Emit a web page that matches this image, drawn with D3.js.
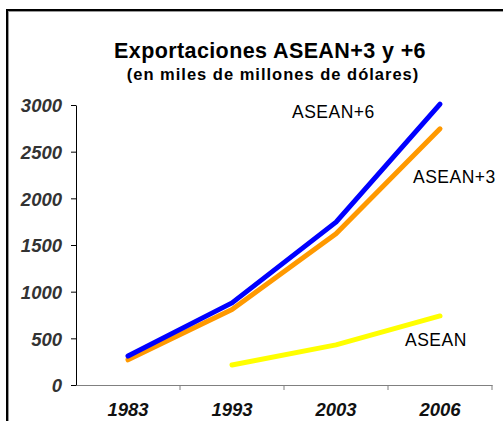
<!DOCTYPE html>
<html>
<head>
<meta charset="utf-8">
<script src="https://cdn.jsdelivr.net/npm/d3@7"></script>
<style>
  html, body { margin: 0; padding: 0; background: #fff; }
  svg { display: block; font-family: "Liberation Sans", Arial, sans-serif; }
</style>
</head>
<body>
<div id="chart"></div>
<script>
// Data
const years = ['1983', '1993', '2003', '2006'];
const asean6 = [310, 880, 1745, 3010];
const asean3 = [270, 810, 1620, 2745];
const asean = [null, 215, 430, 740];
const yTicks = [0, 500, 1000, 1500, 2000, 2500, 3000];

const W = 503, H = 421;

const svg = d3.select('#chart')
    .append('svg')
    .attr('width', W)
    .attr('height', H);

// Frame (cut off at right and bottom)
svg.append('rect')
    .attr('x', 8).attr('y', 11)
    .attr('width', 600).attr('height', 500)
    .attr('fill', 'none')
    .attr('stroke', '#999')
    .attr('stroke-width', 2);
svg.append('rect')
    .attr('x', 7).attr('y', 10)
    .attr('width', 600).attr('height', 500)
    .attr('fill', 'none')
    .attr('stroke', '#000')
    .attr('stroke-width', 2);

// Title
svg.append('text')
    .attr('x', 270).attr('y', 58)
    .attr('text-anchor', 'middle')
    .attr('font-size', '21.5px')
    .attr('font-weight', 'bold')
    .attr('letter-spacing', '0.4px')
    .attr('fill', '#000')
    .text('Exportaciones ASEAN+3 y +6');

svg.append('text')
    .attr('x', 273).attr('y', 80)
    .attr('text-anchor', 'middle')
    .attr('font-size', '16.5px')
    .attr('font-weight', 'bold')
    .attr('letter-spacing', '1px')
    .attr('fill', '#000')
    .text('(en miles de millones de dólares)');

const x = d3.scaleBand()
    .domain(years)
    .range([76, 492]);

const y = d3.scaleLinear()
    .domain([0, 3000])
    .range([385, 105]);

const tickFont = sel => sel
    .attr('font-size', '18.5px')
    .attr('font-weight', 'bold')
    .attr('font-style', 'italic')
    .attr('font-family', '"Liberation Sans", Arial, sans-serif');

// Axes
const xAxis = svg.append('g')
    .attr('transform', `translate(0,${y(0)})`)
    .call(d3.axisBottom(x).tickSize(5).tickSizeOuter(0));
xAxis.select('.domain').attr('stroke', '#808080');
xAxis.selectAll('.tick line')
    .attr('stroke', '#808080')
    .attr('transform', `translate(${x.bandwidth() / 2},0)`);
xAxis.selectAll('.tick text')
    .attr('dy', '0')
    .attr('y', 31)
    .attr('fill', '#111')
    .call(tickFont);

const yAxis = svg.append('g')
    .attr('transform', `translate(${x.range()[0]},0)`)
    .call(d3.axisLeft(y).tickValues(yTicks).tickFormat(d3.format('d')).tickSize(5).tickSizeOuter(0));
yAxis.select('.domain').attr('stroke', '#000');
yAxis.selectAll('.tick line').attr('stroke', '#000');
yAxis.selectAll('.tick text')
    .attr('x', -14)
    .attr('dy', '0.36em')
    .attr('fill', '#333')
    .call(tickFont);

// Lines
const cx = d => x(d) + x.bandwidth() / 2;
const line = d3.line()
    .defined(d => d.v != null)
    .x(d => cx(d.year))
    .y(d => y(d.v));

const series = [
    { name: 'ASEAN', values: asean, color: '#FFFF00' },
    { name: 'ASEAN+3', values: asean3, color: '#FF9900' },
    { name: 'ASEAN+6', values: asean6, color: '#0000FF' }
];

series.forEach(s => {
    svg.append('path')
        .datum(years.map((yr, i) => ({ year: yr, v: s.values[i] })))
        .attr('fill', 'none')
        .attr('stroke', s.color)
        .attr('stroke-width', 5)
        .attr('stroke-linecap', 'round')
        .attr('stroke-linejoin', 'round')
        .attr('d', line);
});

// Series labels
const labels = [
    { text: 'ASEAN+6', x: 292, y: 118 },
    { text: 'ASEAN+3', x: 413, y: 183 },
    { text: 'ASEAN', x: 405, y: 346 }
];
svg.selectAll('.series-label')
    .data(labels)
    .enter()
    .append('text')
    .attr('class', 'series-label')
    .attr('x', d => d.x)
    .attr('y', d => d.y)
    .attr('font-size', '17.5px')
    .attr('letter-spacing', '0.5px')
    .attr('fill', '#000')
    .text(d => d.text);
</script>
</body>
</html>
